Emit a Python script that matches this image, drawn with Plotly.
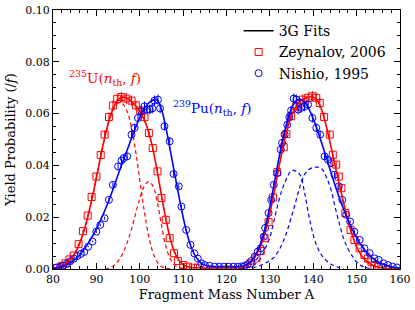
import plotly.graph_objects as go

# ---------------- data ----------------
fit_A = list(range(80, 161))
u235_fit = [.0003, .0006, .0012, .0022, .0037, .0060, .0093, .0140, .0200, .0272,
            .0352, .0435, .0513, .0578, .0625, .0654, .0664, .0660, .0648, .0630,
            .0608, .0578, .0532, .0465, .0380, .0285, .0195, .0120, .0066, .0034,
            .0017, .0009, .0006, .0005, .0004, .0004, .0004, .0004, .0004, .0004,
            .0004, .0004, .0004, .0005, .0008, .0016, .0032, .0058, .0095, .0148,
            .0215, .0298, .0385, .0468, .0540, .0593, .0627, .0647, .0658, .0664,
            .0664, .0650, .0612, .0552, .0478, .0402, .0328, .0255, .0188, .0130,
            .0086, .0055, .0034, .0021, .0012, .0007, .0004, .0002, .0001, .0001,
            .0000]
pu239_fit = [.0003, .0005, .0009, .0015, .0024, .0036, .0052, .0072, .0096, .0124,
             .0155, .0190, .0228, .0270, .0316, .0364, .0410, .0455, .0500, .0545,
             .0585, .0618, .0640, .0652, .0652, .0617, .0548, .0462, .0372, .0283,
             .0200, .0130, .0078, .0045, .0025, .0015, .0011, .0009, .0009, .0009,
             .0009, .0009, .0009, .0010, .0013, .0021, .0037, .0064, .0105, .0165,
             .0242, .0330, .0420, .0502, .0570, .0620, .0648, .0655, .0645, .0618,
             .0580, .0535, .0484, .0430, .0377, .0325, .0276, .0231, .0190, .0153,
             .0121, .0093, .0070, .0052, .0038, .0027, .0019, .0013, .0009, .0006,
             .0004]

u_g1_A = list(range(80, 108))
u_g1 = [.0003, .0006, .0012, .0022, .0037, .0060, .0093, .0140, .0200, .0272,
        .0352, .0435, .0512, .0575, .0618, .0640, .0638, .0612, .0555, .0460,
        .0345, .0228, .0132, .0066, .0028, .0010, .0003, .0001]
u_g2_A = list(range(92, 112))
u_g2 = [.0000, .0003, .0013, .0030, .0058, .0097, .0148, .0210, .0272, .0318,
        .0337, .0322, .0262, .0170, .0090, .0040, .0016, .0006, .0002, .0000]

pu_g1_A = list(range(123, 148))
pu_g1 = [.0001, .0003, .0007, .0012, .0024, .0045, .0082, .0122, .0190, .0260,
         .0315, .0355, .0380, .0378, .0362, .0295, .0205, .0132, .0082, .0052,
         .0033, .0019, .0011, .0005, .0002]
pu_g2_A = list(range(126, 154))
pu_g2 = [.0003, .0008, .0015, .0023, .0033, .0046, .0070, .0103, .0148, .0203,
         .0262, .0322, .0365, .0384, .0392, .0393, .0386, .0355, .0312, .0242,
         .0176, .0118, .0078, .0050, .0027, .0013, .0006, .0002]

zey_A = [80.8, 82.0, 82.9, 83.8, 84.8, 85.9, 86.9, 88.0, 88.9, 90.0, 91.0, 91.9,
         92.9, 93.8, 94.8, 95.8, 96.9, 98.1, 99.1, 100.1, 101.1, 102.1, 103.0,
         104.1, 105.0, 106.0, 106.9, 107.9, 108.8, 110.0, 111.1, 112.3, 113.4,
         125.5, 126.9, 127.9, 128.8, 129.7, 130.7, 131.7, 133.2, 133.8, 134.9,
         136.1, 136.9, 137.6, 138.8, 139.8, 140.7, 141.5, 142.5, 143.8, 144.5,
         145.3, 145.9, 146.5, 147.4, 148.6, 149.5, 150.7, 151.8, 152.6, 153.4,
         154.1, 155.1, 156.0]
zey_Y = [.0003, .0012, .0022, .0037, .0052, .0096, .0146, .0206, .0278, .0357,
         .0440, .0519, .0587, .0631, .0657, .0664, .0658, .0650, .0632, .0612,
         .0586, .0525, .0467, .0377, .0274, .0190, .0119, .0061, .0031, .0015,
         .0009, .0005, .0005,
         .0022, .0041, .0070, .0119, .0181, .0276, .0374, .0470, .0521, .0590,
         .0628, .0639, .0654, .0661, .0667, .0661, .0641, .0587, .0519, .0441,
         .0403, .0357, .0312, .0216, .0151, .0112, .0080, .0054, .0040, .0028,
         .0012, .0008, .0005]

nis_A = [80.8, 81.6, 82.4, 83.2, 84.0, 84.8, 85.6, 86.4, 87.2, 88.1, 89.1, 90.0,
         90.9, 91.9, 92.9, 93.8, 95.0, 95.8, 96.3, 97.1, 98.1, 98.8, 99.6, 100.4,
         101.1, 101.7, 102.3, 102.9, 103.4, 104.2, 104.7, 105.7, 106.9, 107.8,
         109.0, 109.6, 110.7, 111.7, 112.6, 113.4, 114.2, 115.0, 116.1, 117.3,
         118.3, 119.4, 120.5, 121.6, 122.6, 123.5, 124.2, 124.9, 125.7, 126.5,
         127.2, 127.9, 128.6, 128.9, 129.7, 130.3, 130.9, 131.7, 132.5, 132.8,
         133.4, 134.0, 134.5, 134.9, 135.5, 136.1, 136.5, 137.2, 138.0, 138.8,
         139.8, 140.7, 141.6, 142.6, 143.4, 144.1, 144.9, 145.9, 146.7, 147.6,
         148.5, 149.5, 150.7, 151.8, 153.0, 154.1, 155.1, 156.2, 157.2, 158.3,
         159.3]
nis_Y = [.0006, .0008, .0013, .0020, .0030, .0040, .0050, .0058, .0066, .0086,
         .0106, .0144, .0170, .0196, .0267, .0325, .0396, .0419, .0428, .0435,
         .0519, .0545, .0583, .0609, .0628, .0616, .0616, .0620, .0650, .0654,
         .0620, .0551, .0493, .0367, .0319, .0241, .0151, .0093, .0060, .0040,
         .0022, .0015, .0012, .0009, .0009, .0009, .0009, .0009, .0009, .0010,
         .0012, .0018, .0031, .0048, .0067, .0080, .0125, .0158, .0216, .0267,
         .0325, .0370, .0461, .0487, .0519, .0557, .0586, .0612, .0658, .0654,
         .0616, .0622, .0628, .0635, .0583, .0545, .0519, .0435, .0422, .0409,
         .0364, .0319, .0267, .0209, .0183, .0144, .0112, .0080, .0061, .0041,
         .0035, .0022, .0015, .0009, .0006]

RED = "#ff0000"
BLUE = "#0000ff"
FONT = "DejaVu Serif, Liberation Serif, serif"

fig = go.Figure()

# dashed components
for xa, ya, col in [(u_g1_A, u_g1, RED), (u_g2_A, u_g2, RED),
                    (pu_g1_A, pu_g1, BLUE), (pu_g2_A, pu_g2, BLUE)]:
    fig.add_trace(go.Scatter(x=xa, y=ya, mode="lines", showlegend=False,
                             line=dict(color=col, width=1.2, dash="4px,3px", shape="spline"),
                             hoverinfo="skip"))

# legend entry for fits
fig.add_trace(go.Scatter(x=[None], y=[None], mode="lines", name="3G Fits",
                         line=dict(color="black", width=1.5)))

# data points
fig.add_trace(go.Scatter(x=zey_A, y=zey_Y, mode="markers", name="Zeynalov, 2006",
                         marker=dict(symbol="square-open", size=7, color=RED,
                                     line=dict(color=RED, width=1)),
                         error_y=dict(type="percent", value=3, color=RED, thickness=1, width=0)))
fig.add_trace(go.Scatter(x=nis_A, y=nis_Y, mode="markers", name="Nishio, 1995",
                         marker=dict(symbol="circle-open", size=7, color=BLUE,
                                     line=dict(color=BLUE, width=1)),
                         error_y=dict(type="percent", value=3, color=BLUE, thickness=1, width=0)))

# fit lines
fig.add_trace(go.Scatter(x=fit_A, y=u235_fit, mode="lines", showlegend=False,
                         line=dict(color=RED, width=1.6, shape="spline")))
fig.add_trace(go.Scatter(x=fit_A, y=pu239_fit, mode="lines", showlegend=False,
                         line=dict(color=BLUE, width=1.6, shape="spline")))

fig.add_annotation(x=91.9, y=0.0739, xref="x", yref="y", showarrow=False,
                   text="<sup>235</sup>U(<i>n</i><sub>th</sub>, <i>f</i>)",
                   font=dict(family=FONT, size=13.5, color=RED))
fig.add_annotation(x=116.8, y=0.0620, xref="x", yref="y", showarrow=False,
                   text="<sup>239</sup>Pu(<i>n</i><sub>th</sub>, <i>f</i>)",
                   font=dict(family=FONT, size=13.5, color=BLUE))

axis_common = dict(showline=True, linecolor="black", linewidth=1, mirror="ticks",
                   ticks="inside", ticklen=6, tickwidth=1, tickcolor="black",
                   showgrid=False, zeroline=False, automargin=False,
                   tickfont=dict(family=FONT, size=11, color="black"))

fig.update_xaxes(range=[80, 160], dtick=10, tick0=80,
                 minor=dict(dtick=2, ticks="inside", ticklen=3, tickcolor="black", showgrid=False),
                 title=dict(text="Fragment Mass Number A", font=dict(family=FONT, size=13, color="black"),
                            standoff=4),
                 **axis_common)
fig.update_yaxes(range=[0, 0.1], dtick=0.02, tick0=0, tickformat=".2f",
                 minor=dict(dtick=0.005, ticks="inside", ticklen=3, tickcolor="black", showgrid=False),
                 title=dict(text="Yield Probability (/<i>f</i>)", font=dict(family=FONT, size=13, color="black"),
                            standoff=6),
                 **axis_common)

fig.update_layout(width=415, height=310, margin=dict(l=53, r=15, t=10, b=41),
                  paper_bgcolor="white", plot_bgcolor="white",
                  font=dict(family=FONT, size=12, color="black"),
                  legend=dict(x=0.535, y=0.98, xanchor="left", yanchor="top",
                              bgcolor="rgba(0,0,0,0)", borderwidth=0,
                              font=dict(family=FONT, size=14, color="black"),
                              tracegroupgap=0, itemwidth=30))

fig.write_html("out.html", config={"displayModeBar": False},
               post_script="document.body.style.margin='0px';")
